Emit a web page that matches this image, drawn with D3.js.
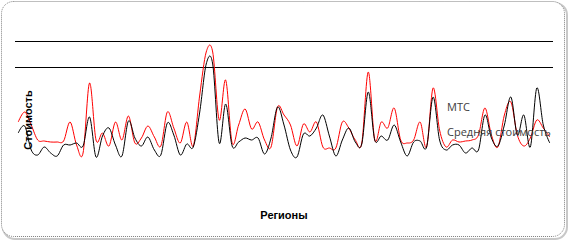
<!DOCTYPE html>
<html>
<head>
<meta charset="utf-8">
<script src="https://cdn.jsdelivr.net/npm/d3@7.9.0/dist/d3.min.js"></script>
<style>
  html, body { margin: 0; padding: 0; background: #fff; }
  svg { display: block; }
</style>
</head>
<body>
<svg id="chart" width="570" height="241"></svg>
<script>
// values (plot units, 0 = bottom of plot)
const mts = [37, 44, 20, 15, 23, 17, 14, 25, 25, 27, 24, 53, 13, 34, 42, 25, 14, 49, 32, 24,
  33, 20, 15, 47, 35, 15, 26, 23, 58, 106, 106, 27, 66, 24, 28, 32, 30, 32, 16, 32,
  63, 45, 20, 13, 36, 34, 42, 55, 34, 14, 30, 42, 28, 26, 78, 30, 34, 30, 45, 28,
  14, 28, 29, 23, 73, 30, 20, 25, 25, 17, 22, 20, 55, 32, 24, 45, 73, 35, 55, 23,
  82, 45, 27];
const avgCost = [48, 58, 45, 30, 29, 28, 28, 29, 48, 25, 17, 87, 30, 37, 24, 48, 30, 54, 27, 32,
  44, 33, 24, 58, 42, 27, 48, 24, 75, 118, 118, 50, 90, 27, 45, 61, 41, 48, 30, 23,
  63, 55, 45, 24, 46, 38, 48, 23, 22, 22, 48, 42, 30, 27, 98, 30, 48, 42, 62, 30,
  27, 30, 48, 23, 82, 40, 23, 30, 28, 29, 30, 35, 62, 35, 23, 55, 68, 35, 24, 32,
  50, 42, 33];
const regions = mts.map((_, i) => i + 1);
const gridValues = [103, 129];
const seriesNames = ['МТС', 'Средняя стоимость'];

const svg = d3.select('#chart');

// frame with shadow
svg.append('rect')
  .attr('x', 3).attr('y', 3).attr('width', 564).attr('height', 236)
  .attr('rx', 12)
  .attr('fill', 'none').attr('stroke', '#c8c8c8').attr('stroke-width', 2);
svg.append('rect')
  .attr('x', 1.5).attr('y', 1.5).attr('width', 563).attr('height', 235)
  .attr('rx', 12)
  .attr('fill', '#fff').attr('stroke', '#7f7f7f').attr('stroke-dasharray', '1,1');

const x = d3.scalePoint().domain(regions).range([15, 553]).padding(0.5);
const y = d3.scaleLinear().domain([0, 129]).range([170, 41]);

// gridlines
svg.append('g')
  .attr('transform', 'translate(15,0)')
  .call(d3.axisLeft(y).tickValues(gridValues).tickSize(-538).tickFormat(''))
  .call(g => g.select('.domain').remove())
  .call(g => g.selectAll('.tick line').attr('stroke', '#000').attr('stroke-width', 1.2));

const line = d3.line()
  .x((d, i) => x(regions[i]))
  .y(d => y(d))
  .curve(d3.curveCardinal.tension(0));

svg.append('path')
  .datum(avgCost)
  .attr('d', line)
  .attr('fill', 'none').attr('stroke', '#ff0000').attr('stroke-width', 1);

svg.append('path')
  .datum(mts)
  .attr('d', line)
  .attr('fill', 'none').attr('stroke', '#000').attr('stroke-width', 1);

// legend
svg.selectAll('.legend')
  .data(seriesNames)
  .join('text')
  .attr('class', 'legend')
  .attr('x', 447)
  .attr('y', (d, i) => 111 + i * 25)
  .attr('font-family', 'Open Sans')
  .attr('font-size', 11)
  .attr('fill', '#404040')
  .text(d => d);

// axis titles
svg.append('text')
  .attr('transform', 'translate(32,120) rotate(-90)')
  .attr('text-anchor', 'middle')
  .attr('font-family', 'Liberation Sans')
  .attr('font-weight', 'bold')
  .attr('font-size', 11)
  .text('Стоимость');

svg.append('text')
  .attr('x', 284).attr('y', 219)
  .attr('text-anchor', 'middle')
  .attr('font-family', 'Liberation Sans')
  .attr('font-weight', 'bold')
  .attr('font-size', 11)
  .text('Регионы');
</script>
</body>
</html>
